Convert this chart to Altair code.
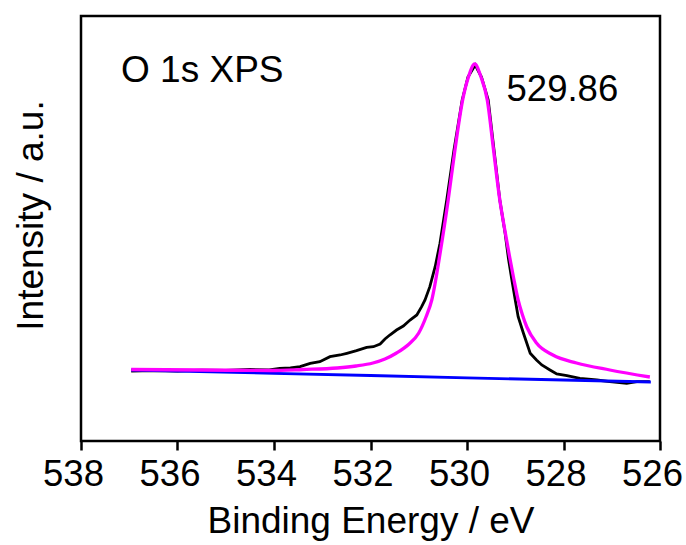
import altair as alt
import pandas as pd

# Measured spectrum (black)
raw_e = [536.96, 536.5, 536.0, 535.5, 535.0, 534.5, 534.1, 533.88, 533.66, 533.46,
         533.25, 533.05, 532.84, 532.63, 532.49, 532.29, 532.08, 531.94, 531.80, 531.70,
         531.60, 531.46, 531.32, 531.18, 531.04, 530.94, 530.87, 530.77, 530.66, 530.56,
         530.42, 530.27, 530.10, 529.98, 529.83, 529.70, 529.56, 529.44, 529.32, 529.21,
         529.14, 529.07, 529.00, 528.94, 528.83, 528.69, 528.56, 528.45, 528.28, 528.14,
         527.93, 527.66, 527.31, 527.04, 526.69, 526.48, 526.21]
raw_i = [70, 70.5, 70, 70.8, 70.5, 71.5, 71, 72.7, 73, 74.3,
         77.7, 79.3, 84.3, 86, 87.7, 90.3, 93.7, 94.3, 97, 102,
         106, 111, 115, 121, 126, 134.3, 141, 154.3, 174.3, 197.7,
         241, 291, 341, 364, 376, 364, 341, 291, 241, 207.7,
         182, 161, 141, 124.3, 107.7, 87.7, 81, 76, 71, 67,
         65.3, 62.7, 61, 59.3, 57.7, 59.3, 59.3]

# Fitted peak (magenta)
fit_e = [536.96, 535.5, 534.08, 533.4, 532.69, 532.3, 531.95, 531.7, 531.46, 531.2,
         531.0, 530.85, 530.73, 530.55, 530.39, 530.25, 530.09, 529.97, 529.84, 529.71,
         529.58, 529.45, 529.32, 529.22, 529.12, 529.03, 528.94, 528.85, 528.76, 528.56,
         528.22, 527.73, 527.04, 526.21]
fit_i = [71.5, 71, 70.5, 71.5, 73, 75, 78, 82, 88, 97,
         108, 124, 141, 190, 241, 291, 341, 364, 377, 364,
         341, 291, 241, 212, 185, 162, 141, 126, 114, 98,
         86, 78, 71, 64]

# Background (blue)
bg_e = [536.96, 534.0, 532.0, 530.0, 528.0, 526.19]
bg_i = [71, 67.7, 65.5, 63.2, 61.0, 59]

# Annotations
ann_text = ["O 1s XPS", "529.86"]
ann_e = [537.17, 529.18]
ann_i = [359.3, 340.3]

x_ticks = [526, 528, 530, 532, 534, 536, 538]

FONT = "Liberation Sans"

xscale = alt.Scale(domain=[526, 538], reverse=True, nice=False, zero=False)
yscale = alt.Scale(domain=[0, 425], nice=False, zero=False)

xaxis = alt.Axis(values=x_ticks, title="Binding Energy / eV", grid=False, domain=False,
                 ticks=True, tickSize=9, tickWidth=2.5, tickColor="black",
                 labelFontSize=36.5, labelFont=FONT, labelColor="black", labelPadding=6,
                 labelOffset=-8, labelFlush=False,
                 titleFontSize=37, titleFont=FONT, titleColor="black", titleFontWeight="normal",
                 titleBaseline="alphabetic", titleY=91)
yaxis = alt.Axis(title="Intensity / a.u.", grid=False, domain=False, ticks=False, labels=False,
                 titleFontSize=37, titleFont=FONT, titleColor="black", titleFontWeight="normal",
                 titleBaseline="alphabetic", titleX=-39, titleY=199, titleAngle=270,
                 titleAlign="center")

raw_df = pd.DataFrame({"E": raw_e, "I": raw_i})
fit_df = pd.DataFrame({"E": fit_e, "I": fit_i})
bg_df = pd.DataFrame({"E": bg_e, "I": bg_i})
ann_df = pd.DataFrame({"E": ann_e, "I": ann_i, "t": ann_text})

raw = alt.Chart(raw_df).mark_line(color="black", strokeWidth=2.8).encode(
    x=alt.X("E:Q", scale=xscale, axis=xaxis),
    y=alt.Y("I:Q", scale=yscale, axis=yaxis),
)
bg = alt.Chart(bg_df).mark_line(color="#0000FF", strokeWidth=2.8).encode(
    x=alt.X("E:Q", scale=xscale),
    y=alt.Y("I:Q", scale=yscale),
)
fit = alt.Chart(fit_df).mark_line(color="#FF00FF", strokeWidth=3.3, interpolate="monotone").encode(
    x=alt.X("E:Q", scale=xscale),
    y=alt.Y("I:Q", scale=yscale),
)
ann_base = alt.Chart(ann_df).encode(
    x=alt.X("E:Q", scale=xscale),
    y=alt.Y("I:Q", scale=yscale),
    text="t:N",
)
ann1 = ann_base.transform_filter(alt.datum.t == ann_text[0]).mark_text(
    font=FONT, fontSize=37, align="left", baseline="alphabetic", color="black")
ann2 = ann_base.transform_filter(alt.datum.t == ann_text[1]).mark_text(
    font=FONT, fontSize=36.5, align="left", baseline="alphabetic", color="black")

chart = alt.layer(raw, bg, fit, ann1, ann2).properties(
    width=579, height=425,
    autosize=alt.AutoSizeParams(type="none"),
    padding={"left": 81, "top": 16, "right": 26, "bottom": 104},
    background="white",
).configure_view(stroke="black", strokeWidth=2.5)

chart.save("out.html", embed_options={"renderer": "svg", "actions": False})
